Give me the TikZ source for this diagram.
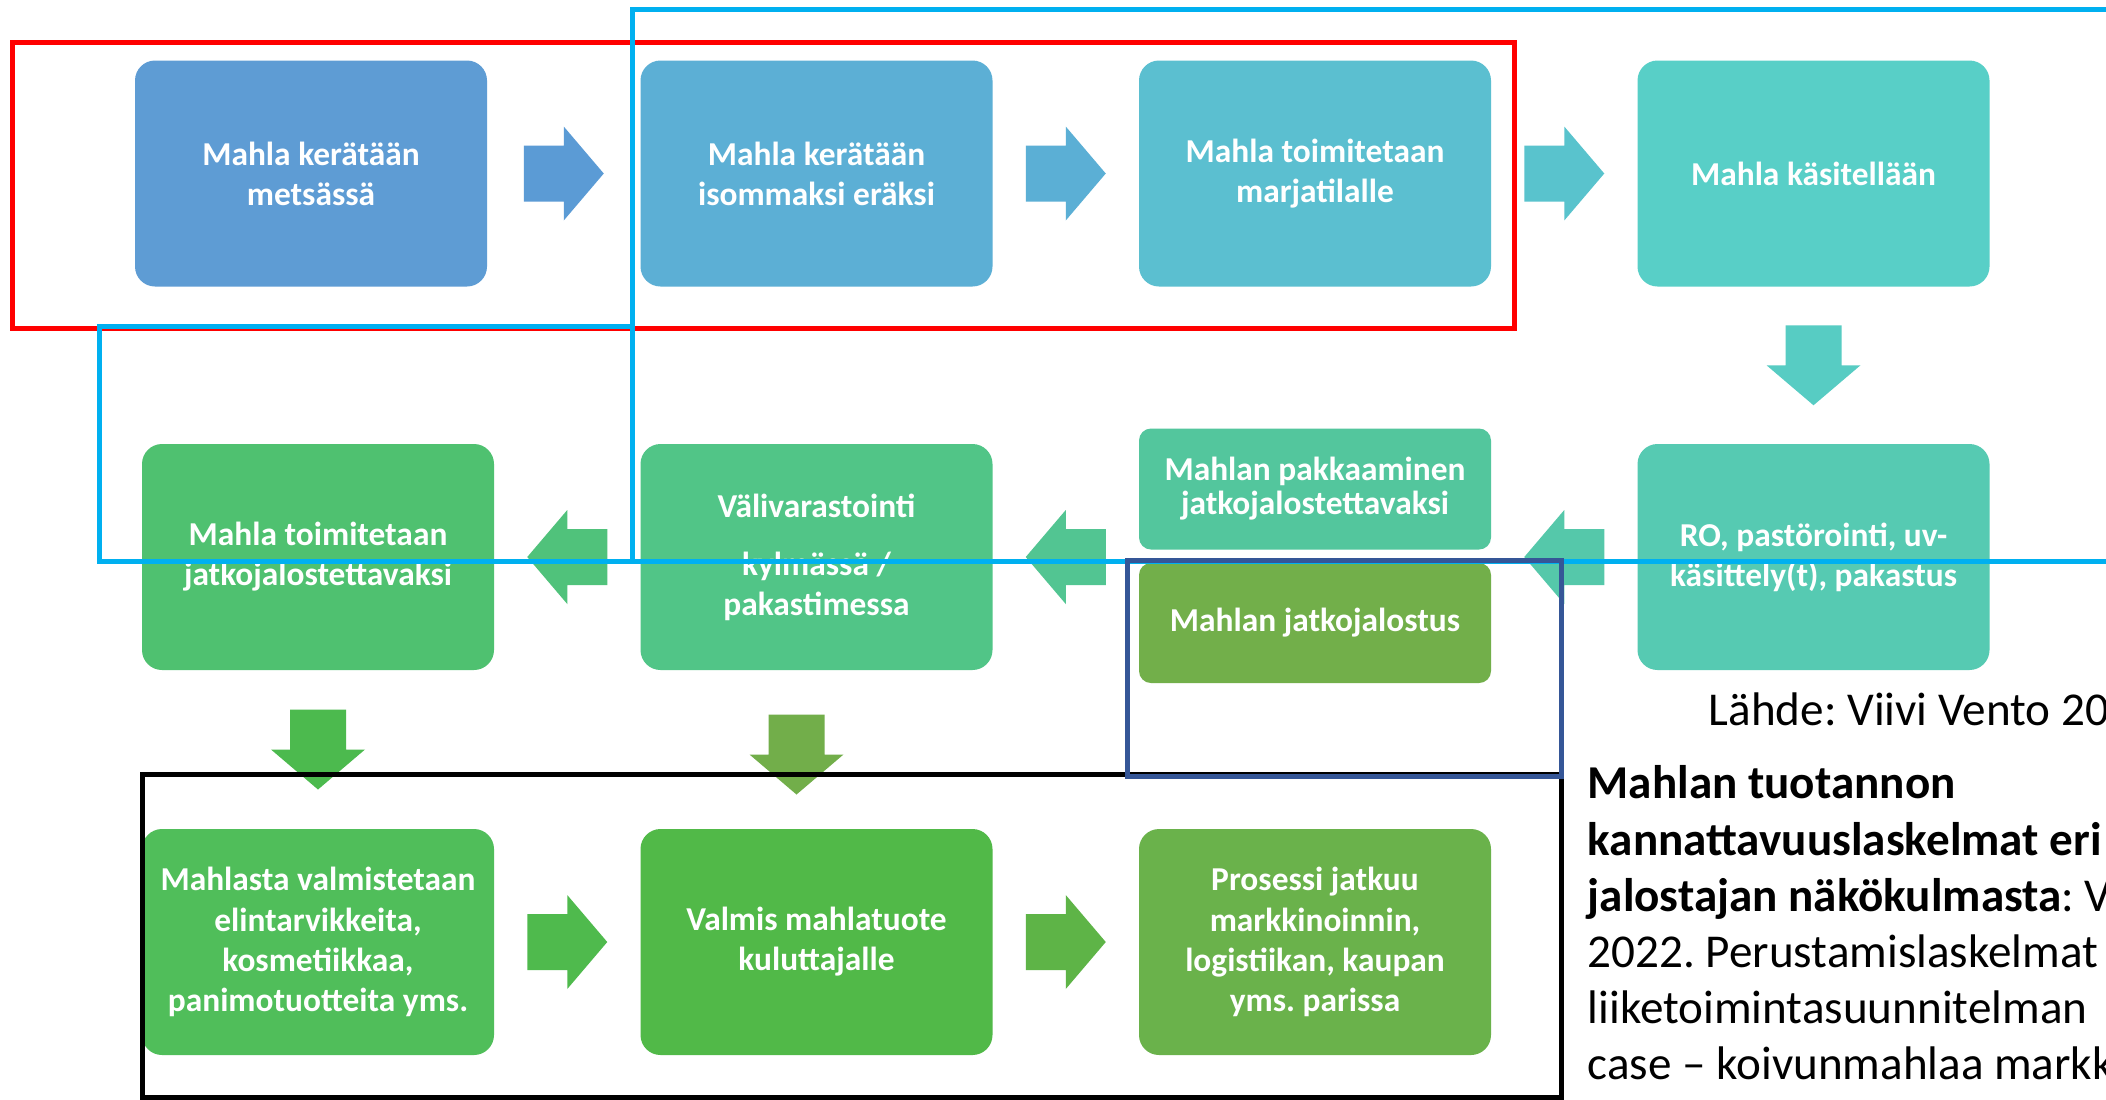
\documentclass[tikz,border=0pt]{standalone}
\usepackage{fontspec}
\setmainfont{Carlito}
\usetikzlibrary{calc}
\newdimen\pxu \pxu=0.01cm
\frenchspacing
\definecolor{cb1}{HTML}{5E9CD4}
\definecolor{cb2}{HTML}{5CAFD5}
\definecolor{cb3}{HTML}{5BBFD0}
\definecolor{cb4}{HTML}{58CFC7}
\definecolor{cb8}{HTML}{56CAB2}
\definecolor{cb7}{HTML}{53C69D}
\definecolor{cb7b}{HTML}{72AF4A}
\definecolor{cb6}{HTML}{51C587}
\definecolor{cb5}{HTML}{4FC170}
\definecolor{cb9}{HTML}{50BE5A}
\definecolor{cb10}{HTML}{51B948}
\definecolor{cb11}{HTML}{6AB24B}
\definecolor{ca1}{HTML}{5B9BD5}
\definecolor{ca2}{HTML}{5BAFD5}
\definecolor{ca3}{HTML}{59C3CD}
\definecolor{ca4}{HTML}{57CCC3}
\definecolor{ca5}{HTML}{55C8AA}
\definecolor{ca6}{HTML}{52C592}
\definecolor{ca7}{HTML}{50C27B}
\definecolor{ca8}{HTML}{4CBA4E}
\definecolor{ca9}{HTML}{72AE4A}
\definecolor{ca10}{HTML}{4FBA4D}
\definecolor{ca11}{HTML}{5EB447}
\definecolor{cyanline}{HTML}{00B0F0}
\definecolor{navyline}{HTML}{355697}
\tikzset{
  box/.style={rounded corners=20\pxu, minimum width=352\pxu, minimum height=226\pxu,
    inner sep=0pt, text=white, align=center, font=\fontsize{9.5}{11.4}\selectfont\bfseries},
  smallbox/.style={box, rounded corners=12\pxu, minimum height=121\pxu},
  blockarrow/.pic={\path[pic actions] (-40,-28) -- (0,-28) -- (0,-47) -- (40,0) -- (0,47) -- (0,28) -- (-40,28) -- cycle;},
  frame/.style={line width=5\pxu},
  reftext/.style={anchor=base west, inner sep=0pt, font=\fontsize{13.4}{15.9}\selectfont},
}
\begin{document}
\begin{tikzpicture}[x=0.01cm, y=-0.01cm]
\useasboundingbox (0,0) rectangle (2106,1099);
\clip (0,0) rectangle (2106,1099);
\fill[white] (0,0) rectangle (2106,1099);

% row 1
\node[box, fill=cb1] (b1) at (311,173.5) {Mahla kerätään\\metsässä};
\node[box, fill=cb2] (b2) at (816.5,173.5) {Mahla kerätään\\isommaksi eräksi};
\node[box, fill=cb3] (b3) at (1315,173.5) {Mahla toimitetaan\\marjatilalle};
\node[box, fill=cb4] (b4) at (1813.5,173.5) {Mahla käsitellään};
% row 2
\node[box, fill=cb5] (b5) at (318,557) {Mahla toimitetaan\\jatkojalostettavaksi};
\node[box, fill=cb6] (b6) at (816.5,557) {Välivarastointi\\[5.1pt]kylmässä /\\pakastimessa};
\node[smallbox, fill=cb7, font=\fontsize{9.5}{9.7}\selectfont\bfseries] (b7) at (1315,489) {Mahlan pakkaaminen\\jatkojalostettavaksi};
\node[smallbox, fill=cb7b, minimum height=120\pxu] (b7b) at (1315,623) {Mahlan jatkojalostus};
\node[box, fill=cb8] (b8) at (1813.5,557) {RO, pastörointi, uv-\\käsittely(t), pakastus};
% row 3
\node[box, fill=cb9] (b9) at (318,942) {Mahlasta valmistetaan\\elintarvikkeita,\\kosmetiikkaa,\\panimotuotteita yms.};
\node[box, fill=cb10] (b10) at (816.5,942) {Valmis mahlatuote\\kuluttajalle};
\node[box, fill=cb11] (b11) at (1315,942) {Prosessi jatkuu\\markkinoinnin,\\logistiikan, kaupan\\yms. parissa};

% block arrows
\pic[fill=ca1] (a1) at ($(b1.east)!0.5!(b2.west)$) {blockarrow};
\pic[fill=ca2] (a2) at ($(b2.east)!0.5!(b3.west)$) {blockarrow};
\pic[fill=ca3] (a3) at ($(b3.east)!0.5!(b4.west)$) {blockarrow};
\pic[fill=ca4, rotate=-90] (a4) at ($(b4.south)!0.5!(b8.north)$) {blockarrow};
\pic[fill=ca5, rotate=180] (a5) at ($(b8.west)!0.5!(b7.east|-b8.west)$) {blockarrow};
\pic[fill=ca6, rotate=180] (a6) at ($(b7.west|-b6.east)!0.5!(b6.east)$) {blockarrow};
\pic[fill=ca7, rotate=180] (a7) at ($(b6.west)!0.5!(b5.east)$) {blockarrow};
\pic[fill=ca8, rotate=-90] (a8) at ($(b5.south)!0.5!(b9.north)$) {blockarrow};
\pic[fill=ca9, rotate=-90] (a9) at ($($(b6.south)!0.5!(b10.north)$)+(-20,5)$) {blockarrow};
\pic[fill=ca10] (a10) at ($(b9.east)!0.5!(b10.west)$) {blockarrow};
\pic[fill=ca11] (a11) at ($(b10.east)!0.5!(b11.west)$) {blockarrow};

% frames
\draw[frame, red] (12,42) rectangle (1514,328);
\draw[frame, cyanline] (2120,9) -- (632,9) -- (632,561);
\draw[frame, cyanline] (632,326) -- (99,326) -- (99,561) -- (2120,561);
\draw[frame, black] (142,774) rectangle (1561,1097);
\draw[frame, navyline] (1127,560) rectangle (1561,776);

% source text
\node[reftext] (src) at (1708,725) {Lähde: Viivi Vento 20};
\node[reftext] (r1) at (1587,798) {\textbf{Mahlan tuotannon}};
\node[reftext] (r2) at (1587,855) {\textbf{kannattavuuslaskelmat eri}};
\node[reftext] (r3) at (1587,911) {\textbf{jalostajan näkökulmasta}: V};
\node[reftext] (r4) at (1587,967) {2022. Perustamislaskelmat};
\node[reftext] (r5) at (1587,1023) {liiketoimintasuunnitelman};
\node[reftext] (r6) at (1587,1079) {case – koivunmahlaa markk};
\end{tikzpicture}
\end{document}
